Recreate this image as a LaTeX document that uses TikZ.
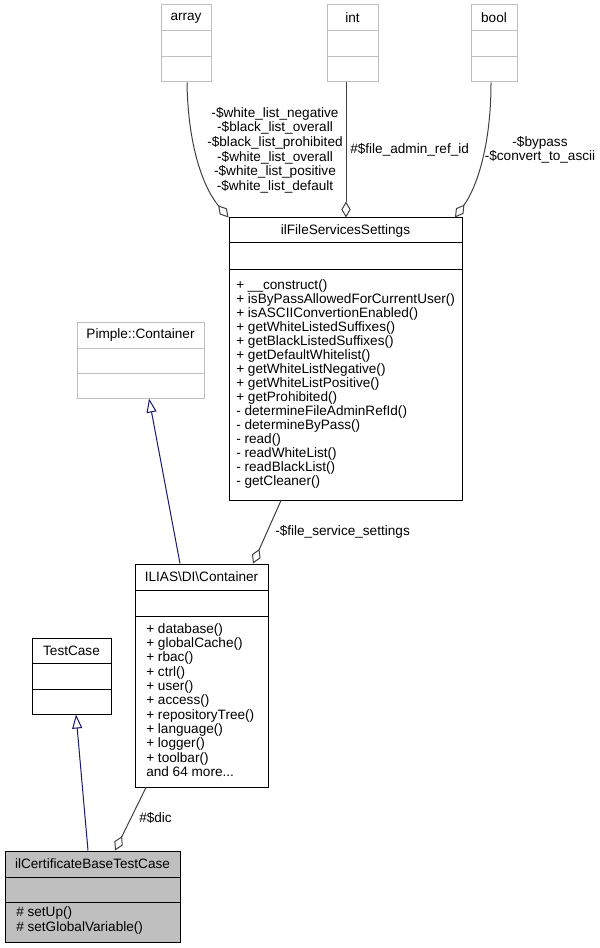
\documentclass[tikz,border=0pt]{standalone}
\usepackage{fontspec}
\setmainfont{Liberation Sans}
\usetikzlibrary{arrows.meta,fit}
\definecolor{grey75}{HTML}{BFBFBF}
\definecolor{grey25}{HTML}{404040}
\definecolor{navy}{HTML}{191970}

\begin{document}
\begin{tikzpicture}[x=0.75pt,y=-0.75pt,font=\fontsize{10.2}{10}\selectfont]
 \tikzstyle{classbox} = [draw=black,line width=0.75pt,inner sep=0pt]
 \tikzstyle{extbox} = [classbox,draw=grey75]
 \tikzstyle{compart} = [line width=0.75pt]
 \tikzstyle{title} = [inner sep=0pt]
 \tikzstyle{members} = [anchor=west,align=left,inner sep=0pt]
 \tikzstyle{inherit} = [draw=navy,line width=0.75pt,-{Triangle[open,length=10.5pt,width=7.5pt]}]
 \tikzstyle{aggr} = [draw=grey25,line width=0.75pt,-{Diamond[open,length=12pt,width=7pt]}]
 \tikzstyle{edgelabel} = [inner sep=0pt,align=center]

  \useasboundingbox (0,0) rectangle (599,948);

  % Class boxes
  \node[extbox,fit={(161,5) (211,82)}] (arr) {};
  \node[extbox,fit={(327,5) (378,82)}] (int) {};
  \node[extbox,fit={(471,5) (517,82)}] (bool) {};
  \node[classbox,fit={(229,218) (462,500)}] (fss) {};
  \node[extbox,fit={(77,322) (204,398)}] (pim) {};
  \node[classbox,fit={(135,564) (268,787)}] (dic) {};
  \node[classbox,fit={(32,638) (111,714)}] (tc) {};
  \node[classbox,fill=grey75,fit={(5,851) (180,942)}] (base) {};

  % Compartments
  \draw[compart,grey75] (arr.west |- 0,31) -- (arr.east |- 0,31) (arr.west |- 0,57) -- (arr.east |- 0,57);
  \draw[compart,grey75] (int.west |- 0,31) -- (int.east |- 0,31) (int.west |- 0,57) -- (int.east |- 0,57);
  \draw[compart,grey75] (bool.west |- 0,31) -- (bool.east |- 0,31) (bool.west |- 0,57) -- (bool.east |- 0,57);
  \draw[compart] (fss.west |- 0,243) -- (fss.east |- 0,243) (fss.west |- 0,270) -- (fss.east |- 0,270);
  \draw[compart,grey75] (pim.west |- 0,348) -- (pim.east |- 0,348) (pim.west |- 0,373) -- (pim.east |- 0,373);
  \draw[compart] (dic.west |- 0,590) -- (dic.east |- 0,590) (dic.west |- 0,616) -- (dic.east |- 0,616);
  \draw[compart] (tc.west |- 0,663) -- (tc.east |- 0,663) (tc.west |- 0,689) -- (tc.east |- 0,689);
  \draw[compart] (base.west |- 0,877) -- (base.east |- 0,877) (base.west |- 0,902) -- (base.east |- 0,902);

  % Titles
  \node[title] (arrT) at (186,18) {array};
  \node[title] (intT) at (352.5,18) {int};
  \node[title] (boolT) at (494,18) {bool};
  \node[title] (fssT) at (345.5,231) {ilFileServicesSettings};
  \node[title] (pimT) at (140.5,335) {Pimple::Container};
  \node[title] (dicT) at (201.5,577) {ILIAS\textbackslash DI\textbackslash Container};
  \node[title] (tcT) at (71.5,651) {TestCase};
  \node[title] (baseT) at (92.5,864) {ilCertificateBaseTestCase};

  % Members
  \node[members,font=\fontsize{10.2}{10.5}\selectfont] (fssM) at (236,384) {+ \_\_construct()\\+ isByPassAllowedForCurrentUser()\\+ isASCIIConvertionEnabled()\\
    + getWhiteListedSuffixes()\\+ getBlackListedSuffixes()\\+ getDefaultWhitelist()\\+ getWhiteListNegative()\\
    + getWhiteListPositive()\\+ getProhibited()\\- determineFileAdminRefId()\\- determineByPass()\\- read()\\
    - readWhiteList()\\- readBlackList()\\- getCleaner()};
  \node[members,font=\fontsize{10.2}{10.75}\selectfont] (dicM) at (146,700) {+ database()\\+ globalCache()\\+ rbac()\\+ ctrl()\\+ user()\\+ access()\\
    + repositoryTree()\\+ language()\\+ logger()\\+ toolbar()\\and 64 more...};
  \node[members,font=\fontsize{10.2}{10.8}\selectfont] (baseM) at (16,920.5) {\# setUp()\\\# setGlobalVariable()};

  % Edges
  \draw[inherit] (base.north -| 88,0) -- (tc.south -| 76,0);
  \draw[inherit] (dic.north -| 180,0) -- (pim.south -| 149,0);
  \draw[aggr] (dic.south -| 146,0) -- (base.north -| 115,0);
  \draw[aggr] (fss.south -| 281,0) -- (dic.north -| 253,0);
  \draw[aggr] (arr.south -| 187,0) .. controls (188,150) and (205,190) .. (fss.north west);
  \draw[aggr] (int.south -| 346,0) -- (fss.north -| 346,0);
  \draw[aggr] (bool.south -| 491,0) .. controls (491,150) and (475,190) .. (fss.north -| 455,0);

  % Edge labels
  \node[edgelabel,font=\fontsize{10.2}{11}\selectfont] (arrL) at (275,150) {-\$white\_list\_negative\\-\$black\_list\_overall\\
    -\$black\_list\_prohibited\\-\$white\_list\_overall\\-\$white\_list\_positive\\-\$white\_list\_default};
  \node[edgelabel,anchor=west] (intL) at (350,150) {\#\$file\_admin\_ref\_id};
  \node[edgelabel,font=\fontsize{10.2}{10.5}\selectfont] (boolL) at (540,150) {-\$bypass\\-\$convert\_to\_ascii};
  \node[edgelabel,anchor=west] (fssL) at (275,532) {-\$file\_service\_settings};
  \node[edgelabel,anchor=west] (dicL) at (139,818) {\#\$dic};

\end{tikzpicture}
\end{document}
